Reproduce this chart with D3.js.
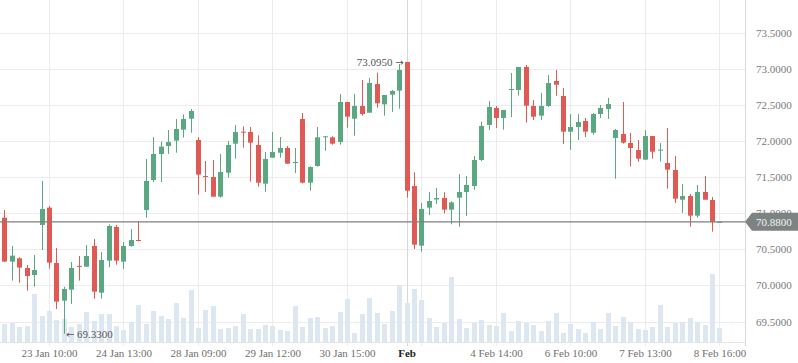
<!doctype html>
<html>
	<head>
		<meta charset="utf-8">
		<style type="text/css">
			body { margin: 0; background: #fff; }
			text { font-family: "Liberation Serif", serif; }
		</style>
		<script src="https://d3js.org/d3.v7.min.js"></script>
	</head>
	<body>
		<svg width="798" height="363"></svg>
		<script type="text/javascript">

			// candles, one per bar index
			var open = [70.938, 70.329, 70.375, 70.241, 70.144, 70.837, 71.077, 70.310, 69.789, 69.941,
				70.270, 70.259, 70.546, 69.899, 70.343, 70.809, 70.329, 70.546, 70.629, 71.044,
				71.460, 71.820, 71.931, 72.005, 72.157, 72.309, 72.014, 71.515, 71.501, 71.229,
				71.561, 71.963, 72.129, 72.125, 71.945, 71.409, 71.769, 71.838, 71.903, 71.700,
				72.305, 71.423, 71.654, 72.060, 72.051, 71.986, 72.540, 72.309, 72.485, 72.392,
				72.789, 72.508, 72.642, 72.697, 73.095, 71.377, 70.550, 71.077, 71.190, 71.211,
				71.049, 71.215, 71.294, 71.377, 71.737, 72.222, 72.457, 72.319, 72.710, 72.706,
				73.025, 72.485, 72.351, 72.485, 72.831, 72.623, 72.129, 72.194, 72.277, 72.115,
				72.374, 72.443, 72.042, 72.097, 71.972, 71.875, 71.741, 72.069, 71.870, 71.695,
				71.598, 71.187, 71.238, 70.966, 71.294, 71.183, 70.880];
			var high = [71.044, 70.546, 70.389, 70.283, 70.421, 71.446, 71.100, 70.518, 69.982, 70.324,
				70.407, 70.560, 70.643, 70.463, 70.846, 70.837, 70.601, 70.781, 70.892, 71.751,
				72.055, 71.991, 72.152, 72.305, 72.369, 72.443, 72.051, 71.723, 71.737, 71.820,
				72.000, 72.222, 72.203, 72.194, 72.078, 71.848, 72.125, 72.055, 71.931, 71.903,
				72.388, 71.649, 72.194, 72.069, 72.065, 72.651, 72.540, 72.651, 72.845, 72.873,
				72.946, 72.637, 72.706, 73.066, 73.095, 71.566, 71.141, 71.294, 71.349, 71.289,
				71.164, 71.543, 71.515, 71.792, 72.268, 72.554, 72.485, 72.429, 72.942, 73.025,
				73.053, 72.568, 72.665, 72.914, 72.983, 72.734, 72.374, 72.374, 72.319, 72.388,
				72.499, 72.596, 72.166, 72.540, 72.111, 72.014, 72.152, 72.069, 71.972, 72.180,
				71.792, 71.404, 71.266, 71.391, 71.515, 71.224, 70.880];
			var low = [70.329, 70.066, 70.038, 69.927, 69.982, 70.490, 70.232, 69.673, 69.330, 69.742,
				70.066, 70.259, 69.816, 69.816, 70.250, 70.287, 70.227, 70.536, 70.610, 70.938,
				71.432, 71.432, 71.820, 71.838, 72.046, 72.115, 71.257, 71.294, 71.229, 71.215,
				71.492, 71.755, 71.908, 71.437, 71.367, 71.298, 71.769, 71.769, 71.686, 71.557,
				71.414, 71.312, 71.645, 71.866, 71.949, 71.949, 72.185, 72.074, 72.351, 72.392,
				72.462, 72.351, 72.402, 72.448, 71.215, 70.504, 70.467, 70.975, 71.127, 70.998,
				70.846, 70.813, 70.961, 71.326, 71.723, 72.152, 72.180, 72.157, 72.332, 72.628,
				72.254, 72.291, 72.291, 72.471, 72.628, 71.958, 71.875, 72.014, 72.055, 72.088,
				72.319, 72.305, 71.478, 71.963, 71.645, 71.714, 71.741, 71.755, 71.714, 71.340,
				71.141, 71.003, 70.813, 70.938, 71.187, 70.744, 70.880];
			var close = [70.329, 70.412, 70.246, 70.130, 70.213, 71.058, 70.315, 69.775, 69.950, 70.241,
				70.260, 70.407, 69.913, 70.352, 70.823, 70.343, 70.546, 70.629, 70.615, 71.446,
				71.820, 71.922, 71.986, 72.166, 72.305, 72.416, 71.534, 71.505, 71.229, 71.571,
				71.945, 72.125, 72.120, 71.977, 71.423, 71.751, 71.848, 71.903, 71.686, 71.710,
				71.423, 71.640, 72.051, 72.065, 71.963, 72.540, 72.337, 72.485, 72.374, 72.803,
				72.522, 72.637, 72.693, 72.983, 71.312, 70.564, 71.058, 71.169, 71.210, 71.049,
				71.150, 71.294, 71.391, 71.737, 72.208, 72.471, 72.319, 72.429, 72.720, 73.025,
				72.489, 72.337, 72.485, 72.803, 72.780, 72.129, 72.194, 72.263, 72.129, 72.374,
				72.457, 72.512, 72.152, 71.977, 71.903, 71.755, 72.069, 71.852, 71.880, 71.603,
				71.201, 71.238, 70.966, 71.294, 71.187, 70.880, 70.880];
			var volume = [18, 19, 15, 16, 48, 26, 31, 22, 23, 15,
				18, 30, 21, 28, 28, 16, 12, 20, 37, 18,
				31, 26, 23, 39, 24, 52, 14, 32, 36, 13,
				14, 16, 28, 13, 13, 17, 16, 12, 11, 36,
				15, 24, 25, 14, 16, 30, 43, 9, 28, 44,
				29, 18, 31, 57, 39, 53, 42, 24, 15, 19,
				65, 23, 14, 19, 22, 17, 16, 29, 11, 21,
				19, 17, 11, 21, 29, 9, 18, 13, 9, 20,
				13, 29, 16, 25, 20, 13, 12, 15, 37, 15,
				19, 20, 24, 20, 17, 68, 14];

			var tickIdx = [6, 16, 26, 36, 46, 54, 56, 66, 76, 86, 96];
			var tickText = ["23 Jan 10:00", "24 Jan 13:00", "28 Jan 09:00", "29 Jan 12:00", "30 Jan 15:00",
				"Feb", "", "4 Feb 14:00", "6 Feb 10:00", "7 Feb 13:00", "8 Feb 16:00"];
			var priceTicks = [69.5, 70.0, 70.5, 71.0, 71.5, 72.0, 72.5, 73.0, 73.5];
			var lastPrice = 70.88;

			var svg = d3.select("svg"),
				plotW = 745,
				plotB = 342;

			var up = "#5aa882", down = "#e05a53";

			var x = d3.scaleLinear().domain([-0.577, 99.423]).range([0, plotW]);
			var y = d3.scaleLinear().domain([69.5, 73.5]).range([321.5, 32.7]);
			var v = d3.scaleLinear().domain([0, 100]).range([plotB, plotB - 100]);
			var fmt = d3.format(".4f");

			var bars = d3.range(open.length);

			// grid
			svg.append("g")
				.selectAll("line")
				.data(priceTicks).enter()
				.append("line")
					.attr("x1", 0).attr("x2", plotW)
					.attr("y1", (d) => Math.round(y(d)) + 0.5)
					.attr("y2", (d) => Math.round(y(d)) + 0.5)
					.style("stroke", "#ececec");

			svg.append("g")
				.selectAll("line")
				.data(tickIdx).enter()
				.append("line")
					.attr("x1", (d) => Math.round(x(d)) + 0.5)
					.attr("x2", (d) => Math.round(x(d)) + 0.5)
					.attr("y1", 0).attr("y2", plotB + 4)
					.style("stroke", (d, i) => tickText[i] == "Feb" ? "#d6d9dc" : "#ececec");

			// volume
			svg.append("g")
				.selectAll("rect")
				.data(bars).enter()
				.append("rect")
					.attr("x", (i) => Math.round(x(i)) - 2)
					.attr("width", 5)
					.attr("y", (i) => v(volume[i]))
					.attr("height", (i) => plotB - v(volume[i]))
					.style("fill", "#dde7f1");

			// axes lines
			svg.append("line")
				.attr("x1", 0).attr("x2", plotW)
				.attr("y1", plotB + 0.5).attr("y2", plotB + 0.5)
				.style("stroke", "#e4e4e4");
			svg.append("line")
				.attr("x1", plotW + 0.5).attr("x2", plotW + 0.5)
				.attr("y1", 0).attr("y2", plotB + 4)
				.style("stroke", "#d9d9d9");

			// candles
			var candles = svg.append("g")
				.selectAll("g")
				.data(bars).enter()
				.append("g")
					.attr("transform", (i) => `translate(${Math.round(x(i))}, 0)`)
					.style("fill", (i) => close[i] >= open[i] ? up : down)
					.style("stroke", (i) => close[i] >= open[i] ? up : down);
			candles
				.append("line")
					.attr("x1", 0.5).attr("x2", 0.5)
					.attr("y1", (i) => y(high[i]))
					.attr("y2", (i) => y(low[i]));
			candles
				.append("rect")
					.attr("x", -2)
					.attr("width", 5)
					.attr("y", (i) => y(Math.max(open[i], close[i])))
					.attr("height", (i) => Math.max(1, Math.abs(y(open[i]) - y(close[i]))))
					.style("stroke", "none");

			// last price line
			svg.append("line")
				.attr("x1", 0).attr("x2", plotW)
				.attr("y1", y(lastPrice)).attr("y2", y(lastPrice))
				.style("stroke", "#7f7f7f")
				.style("stroke-width", 1.3);

			// y axis labels
			var yAxis = svg.append("g")
				.attr("transform", `translate(${plotW}, 0)`)
				.call(d3.axisRight(y).tickValues(priceTicks).tickFormat(fmt).tickSize(0).tickPadding(11));
			yAxis.select(".domain").remove();
			yAxis.selectAll("text")
				.style("font-family", "Liberation Serif, serif")
				.style("font-size", "11px")
				.style("fill", "#7a7a7a");

			// last price tag
			var py = y(lastPrice);
			svg.append("path")
				.attr("d", `M${plotW},${py} L${plotW + 7},${py - 9} L798,${py - 9} L798,${py + 9} L${plotW + 7},${py + 9} Z`)
				.style("fill", "#7d8283");
			svg.append("text")
				.attr("x", plotW + 11).attr("y", py)
				.attr("dy", "0.35em")
				.style("font-size", "11px")
				.style("fill", "#f4f4f4")
				.text(fmt(lastPrice));

			// x axis labels
			var xAxis = svg.append("g")
				.attr("transform", `translate(0, ${plotB})`)
				.call(d3.axisBottom(x).tickValues(tickIdx).tickFormat((d, i) => tickText[i]).tickSize(0).tickPadding(7));
			xAxis.select(".domain").remove();
			xAxis.selectAll("text")
				.style("font-family", "Liberation Serif, serif")
				.style("font-size", "11px")
				.style("fill", (d, i) => tickText[i] == "Feb" ? "#222" : "#6f6f6f")
				.style("font-weight", (d, i) => tickText[i] == "Feb" ? "bold" : "normal");

			// extremes
			var iMax = d3.maxIndex(high), iMin = d3.minIndex(low);
			var tMax = svg.append("text")
				.attr("x", x(iMax) - 3).attr("y", y(high[iMax]))
				.attr("dy", "0.35em")
				.attr("text-anchor", "end")
				.style("font-size", "11px")
				.style("fill", "#555");
			tMax.append("tspan").text(fmt(high[iMax]) + " ");
			tMax.append("tspan").style("font-family", "DejaVu Sans").style("font-size", "10px").text("\u2192");

			var tMin = svg.append("text")
				.attr("x", x(iMin) + 2).attr("y", y(low[iMin]))
				.attr("dy", "0.35em")
				.style("font-size", "11px")
				.style("fill", "#555");
			tMin.append("tspan").style("font-family", "DejaVu Sans").style("font-size", "10px").text("\u2190");
			tMin.append("tspan").text(" " + fmt(low[iMin]));

		</script>
	</body>
</html>
